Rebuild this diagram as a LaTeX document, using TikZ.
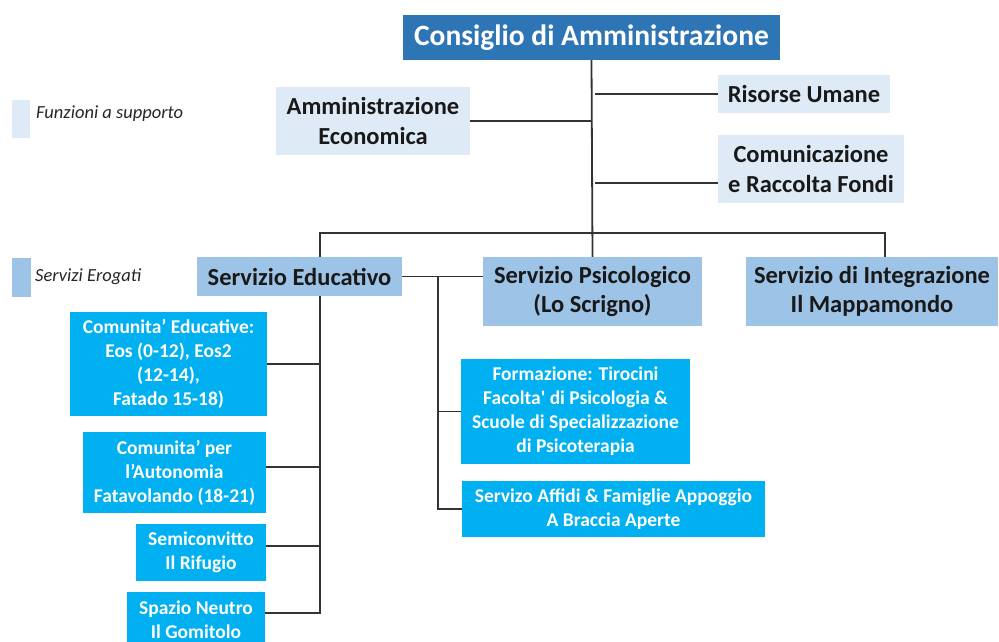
\documentclass[tikz,border=0pt]{standalone}
\usepackage{fontspec}
\setmainfont{Carlito}[Ligatures=TeXOff]
\definecolor{cdablue}{HTML}{2E75B6}
\definecolor{suplight}{HTML}{DEEBF7}
\definecolor{servmid}{HTML}{9DC3E6}
\definecolor{subcyan}{HTML}{00B0F0}
\definecolor{linegray}{HTML}{333333}
\begin{document}
\begin{tikzpicture}[x=1pt,y=-1pt,
  box/.style={rectangle, inner sep=2pt, align=center, font=\bfseries},
  topbox/.style={box, fill=cdablue, text=white, font=\fontsize{29.5}{34}\selectfont\bfseries},
  supbox/.style={box, fill=suplight, text=black!90, font=\fontsize{24.5}{29.5}\selectfont\bfseries},
  servbox/.style={box, fill=servmid, text=black!90, font=\fontsize{24.5}{29.5}\selectfont\bfseries},
  subbox/.style={box, fill=subcyan, text=white, font=\fontsize{19.5}{24}\selectfont\bfseries},
  legbox/.style={rectangle, inner sep=0pt},
  legtext/.style={anchor=west, inner sep=0pt, text=black!85, font=\fontsize{18.5}{22}\selectfont\itshape},
  conn/.style={draw=linegray, line width=1.8pt}]
\useasboundingbox (0,0) rectangle (999,642);

% legend
\node[legbox, fill=suplight, minimum width=18pt, minimum height=38pt] (leg1) at (21,119) {};
\node[legtext] (leg1t) at (36,114) {Funzioni a supporto};
\node[legbox, fill=servmid, minimum width=19pt, minimum height=39pt] (leg2) at (21.5,277.5) {};
\node[legtext] (leg2t) at (35,277) {Servizi Erogati};

% top
\node[topbox, minimum width=377pt, minimum height=45pt] (cda) at (591.5,37.5) {Consiglio di Amministrazione};

% support functions
\node[supbox, minimum width=194pt, minimum height=68pt] (ae) at (373,121) {Amministrazione\\Economica};
\node[supbox, minimum width=172pt, minimum height=38pt] (ru) at (804,94) {Risorse Umane};
\node[supbox, minimum width=186pt, minimum height=68pt] (crf) at (811,169) {Comunicazione\\e Raccolta Fondi};

% services
\node[servbox, minimum width=205pt, minimum height=39pt] (se) at (299.5,276.5) {Servizio Educativo};
\node[servbox, minimum width=219pt, minimum height=69pt] (psi) at (592.5,291.5) {Servizio Psicologico\\(Lo Scrigno)};
\node[servbox, minimum width=252pt, minimum height=69pt] (si) at (872,291.5) {Servizio di Integrazione\\Il Mappamondo};

% educational sub-services
\node[subbox, minimum width=197pt, minimum height=104pt] (ce) at (168.5,364) {Comunita’ Educative:\\Eos (0-12), Eos2\\(12-14),\\Fatado 15-18)};
\node[subbox, minimum width=183pt, minimum height=81pt] (cpa) at (174.5,472.5) {Comunita’ per\\l’Autonomia\\Fatavolando (18-21)};
\node[subbox, minimum width=130pt, minimum height=57pt] (sc) at (201,552.5) {Semiconvitto\\Il Rifugio};
\node[subbox, minimum width=138pt, minimum height=56pt, anchor=north] (sn) at (196,592) {Spazio Neutro\\Il Gomitolo};

% psychological sub-services
\node[subbox, minimum width=229pt, minimum height=105pt] (form) at (575.5,411.5) {Formazione: Tirocini\\Facolta' di Psicologia \&\\Scuole di Specializzazione\\di Psicoterapia};
\node[subbox, minimum width=303pt, minimum height=56pt] (saf) at (613.5,509) {Servizo Affidi \& Famiglie Appoggio\\A Braccia Aperte};

% connector helper coordinates
\coordinate (bus) at (592,233);
\coordinate (seTop) at (320,257);
\coordinate (seBot) at (320,296);
\coordinate (siTop) at (885,257);
\coordinate (pv) at (438,277);
\coordinate (cpaLink) at (320,467);
\coordinate (scLink) at (320,546);
\coordinate (snLink) at (320,613);

% connectors
\draw[conn] (cda.south) -- (psi.north);
\draw[conn] (ae.east) -- (ae.east -| cda.south);
\draw[conn] (ru.west) -- ([xshift=3pt]ru.west -| cda.south);
\draw[conn] ([yshift=-14pt]crf.west) -- ([xshift=3pt,yshift=-14pt]crf.west -| cda.south);
\draw[conn] (seTop) -- (seTop |- bus) -- (siTop |- bus) -- (siTop);
\draw[conn] (se.east) -- (se.east -| psi.west);
\draw[conn] (pv) -- (pv |- saf.west) -- (saf.west);
\draw[conn] (pv |- form.west) -- (form.west);
\draw[conn] (seBot) -- (snLink) -- (snLink -| sn.east);
\draw[conn] (ce.east) -- (ce.east -| seBot);
\draw[conn] (cpaLink -| cpa.east) -- (cpaLink);
\draw[conn] (scLink -| sc.east) -- (scLink);
\end{tikzpicture}
\end{document}
